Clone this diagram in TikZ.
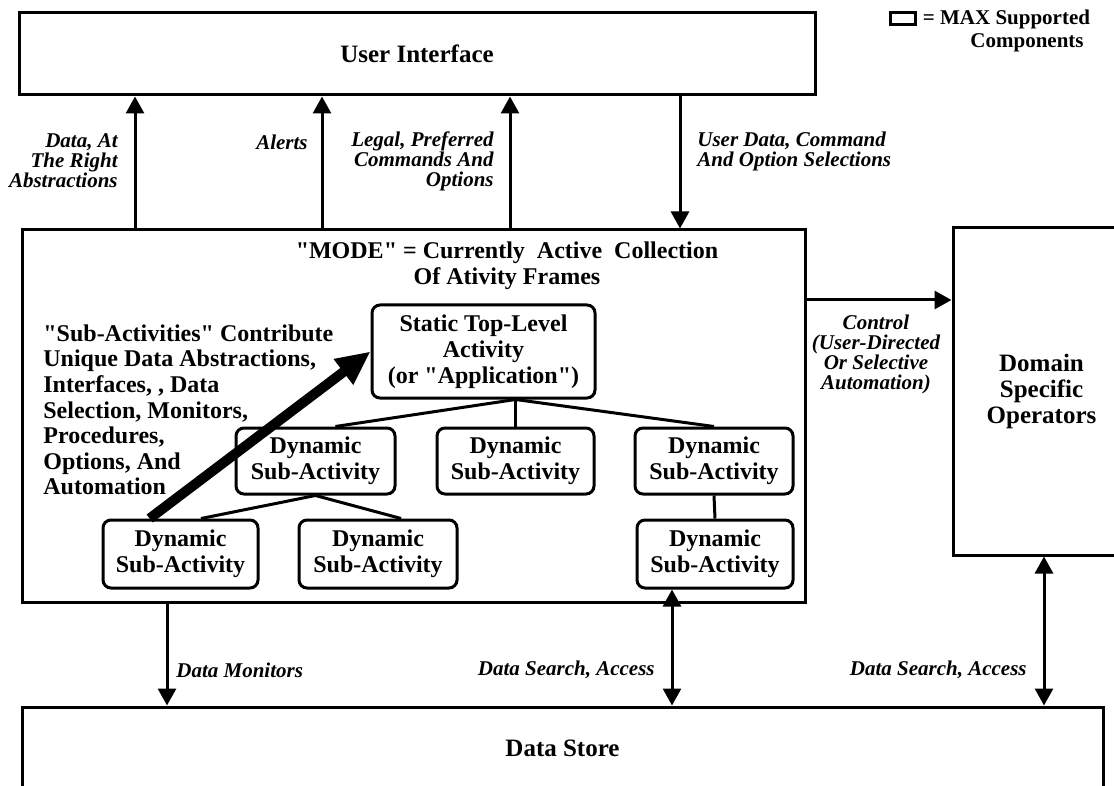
\documentclass[tikz,border=0pt]{standalone}
\usepackage{fontspec}
\setmainfont{Liberation Serif}[Ligatures=TeXOff]
\usetikzlibrary{arrows.meta}

\tikzset{
  bigbox/.style={draw,line width=1.5pt,inner sep=0pt,align=center,
    font=\bfseries\fontsize{12.5}{13}\selectfont},
  actbox/.style={draw,line width=1.5pt,rounded corners=4pt,inner sep=0pt,align=center,
    font=\bfseries\fontsize{12}{13}\selectfont},
  bodytext/.style={inner sep=0pt,font=\bfseries\fontsize{12}{12.8}\selectfont},
  keytext/.style={inner sep=0pt,font=\bfseries\fontsize{10.5}{12.5}\selectfont},
  lbl/.style={inner sep=0pt,font=\bfseries\itshape\fontsize{10.5}{10}\selectfont},
  flow/.style={line width=1.5pt,-{Triangle[length=8.5pt,width=9pt]}},
  twoway/.style={line width=1.5pt,{Triangle[length=8.5pt,width=9pt]}-{Triangle[length=8.5pt,width=9pt]}},
  tree/.style={line width=1.5pt},
  bigarrow/.style={line width=5pt,-{Triangle[length=17pt,width=15pt]}}
}

\begin{document}
\begin{tikzpicture}[x=0.5pt,y=-0.5pt]
\useasboundingbox (0,0) rectangle (1114,786);

% The blocks round the mode
\node[bigbox,minimum width=398pt,minimum height=41pt] (UI) at (417,54) {User Interface};
\node[bigbox,minimum width=391.5pt,minimum height=186pt] (Mode) at (413.5,416) {};
\node[bigbox,minimum width=88.5pt,minimum height=163.5pt] (DSO) at (1041.5,391.5) {Domain\\Specific\\Operators};
\node[bigbox,minimum width=540.5pt,minimum height=41.5pt] (Store) at (562.5,748.5) {Data Store};

% Key in the corner
\node[draw,line width=1.5pt,minimum width=12.5pt,minimum height=6pt,inner sep=0pt] (Key) at (902.5,19) {};
\node[keytext,anchor=west,xshift=3pt] (KeyA) at (Key.east) {= MAX Supported};
\node[keytext] (KeyB) at (1027,43) {Components};

% Title and note inside the mode
\node[bodytext,align=center] (Title) at (507,266) {"MODE" = Currently\ \ Active\ \ Collection\\Of Ativity Frames};
\node[bodytext,align=left,anchor=west] (Note) at (43,410) {"Sub-Activities" Contribute\\Unique Data Abstractions,\\Interfaces, , Data\\Selection, Monitors,\\Procedures,\\Options, And\\Automation};

% The activity tree
\node[actbox,minimum width=111.5pt,minimum height=46.5pt] (Static) at (483.5,351.5) {Static Top-Level\\Activity\\(or "Application")};
\node[actbox,minimum width=79.5pt,minimum height=33pt] (DynA) at (315.5,461) {Dynamic\\Sub-Activity};
\node[actbox,minimum width=78.5pt,minimum height=33pt] (DynB) at (515.5,461) {Dynamic\\Sub-Activity};
\node[actbox,minimum width=79pt,minimum height=33pt] (DynC) at (714,461) {Dynamic\\Sub-Activity};
\node[actbox,minimum width=77.5pt,minimum height=34pt] (DynD) at (180.5,554) {Dynamic\\Sub-Activity};
\node[actbox,minimum width=79pt,minimum height=34pt] (DynE) at (378,554) {Dynamic\\Sub-Activity};
\node[actbox,minimum width=78pt,minimum height=34pt] (DynF) at (715,554) {Dynamic\\Sub-Activity};

\coordinate (Fork) at (Static.south -| DynB.north);
\draw[tree] (Fork) -- (DynA.60);
\draw[tree] (Fork) -- (DynB.north);
\draw[tree] (Fork) -- (DynC.north);
\draw[tree] (DynA.south) -- (DynD.60);
\draw[tree] (DynA.south) -- (DynE.57);
\draw[tree] (DynC.south) -- (DynF.north);

% Sub-activities feed the top-level one
\draw[bigarrow] (DynD.131) -- (Static.west);

% Arrows to and from the user interface
\coordinate (U1) at (135,0);
\coordinate (U2) at (322,0);
\coordinate (U3) at (510,0);
\coordinate (D1) at (680,0);
\foreach \c in {U1,U2,U3}
  \draw[flow] (Mode.north -| \c) -- (UI.south -| \c);
\draw[flow] (UI.south -| D1) -- (Mode.north -| D1);

\node[lbl,align=right,anchor=east] (LabA) at (118,161) {Data, At\\The Right\\Abstractions};
\node[lbl,anchor=east] (LabB) at (308,142) {Alerts};
\node[lbl,align=right,anchor=east] (LabC) at (494,161) {Legal, Preferred\\Commands And\\Options};
\node[lbl,align=left,anchor=west] (LabD) at (697,151) {User Data, Command\\And Option Selections};

% Control of the operators
\coordinate (Ctl) at (0,300);
\draw[flow] (Mode.east |- Ctl) -- (DSO.west |- Ctl);
\node[lbl,align=center] (LabE) at (876,354) {Control\\(User-Directed\\Or Selective\\Automation)};

% Arrows to the data store
\coordinate (B1) at (167,0);
\coordinate (B2) at (672,0);
\coordinate (B3) at (1044,0);
\draw[flow] (Mode.south -| B1) -- (Store.north -| B1);
\draw[twoway] (DynF.south -| B2) -- (Store.north -| B2);
\draw[twoway] (DSO.south -| B3) -- (Store.north -| B3);

\node[lbl,anchor=west] (LabF) at (176,670) {Data Monitors};
\node[lbl,anchor=east] (LabG) at (655,670) {Data Search, Access};
\node[lbl,anchor=east] (LabH) at (1027,670) {Data Search, Access};

\end{tikzpicture}
\end{document}
